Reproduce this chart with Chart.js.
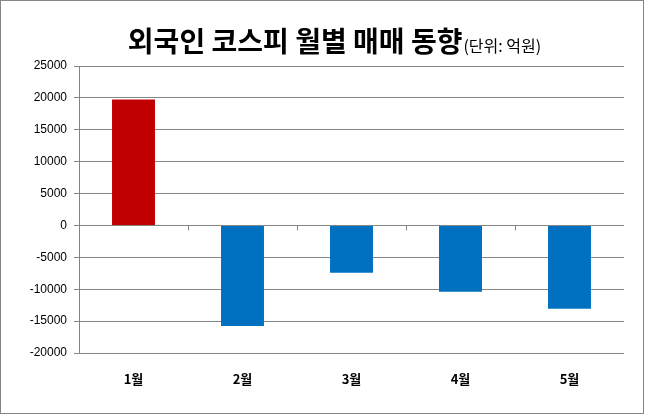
<!DOCTYPE html>
<html>
<head>
<meta charset="utf-8">
<script src="https://cdn.jsdelivr.net/npm/chart.js@4/dist/chart.umd.min.js"></script>
<style>
    html, body { margin: 0; padding: 0; background: #fff; }
    #wrap { width: 645px; height: 415px; position: relative; }
</style>
</head>
<body>
<div id="wrap"><canvas id="chart" width="645" height="415"></canvas></div>
<script>
// Chart data
const months = ['1월', '2월', '3월', '4월', '5월'];
const netBuy = [19750, -15750, -7400, -10400, -13050];
const barColors = ['#C00000', '#0070C0', '#0070C0', '#0070C0', '#0070C0'];
const yTicks = [-20000, -15000, -10000, -5000, 0, 5000, 10000, 15000, 20000, 25000];

const titleText = '외국인 코스피 월별 매매 동향';
const unitText = '(단위: 억원)';

// Title, outer frame and category tick marks on the zero line
const decorPlugin = {
    id: 'decor',
    afterDraw(chart) {
        const ctx = chart.ctx;
        ctx.save();

        // frame
        ctx.strokeStyle = '#868686';
        ctx.lineWidth = 1;
        ctx.strokeRect(0.5, 0.5, 643, 413);

        // title
        ctx.fillStyle = '#000';
        ctx.textBaseline = 'alphabetic';
        ctx.font = 'bold 28px "Noto Sans CJK KR"';
        const w1 = ctx.measureText(titleText).width;
        ctx.font = '16px "Noto Sans CJK KR"';
        const w2 = ctx.measureText(unitText).width;
        const x0 = 334 - (w1 + w2) / 2;
        ctx.font = 'bold 28px "Noto Sans CJK KR"';
        ctx.textAlign = 'left';
        ctx.fillText(titleText, x0, 52);
        ctx.font = '16px "Noto Sans CJK KR"';
        ctx.fillText(unitText, x0 + w1 + 1, 52);

        // ticks between categories on the zero line
        const xs = chart.scales.x;
        const ys = chart.scales.y;
        const y0 = Math.round(ys.getPixelForValue(0)) + 0.5;
        ctx.strokeStyle = '#868686';
        ctx.beginPath();
        for (let i = 1; i < months.length; i++) {
            const xb = Math.round((xs.getPixelForValue(i - 1) + xs.getPixelForValue(i)) / 2) + 0.5;
            ctx.moveTo(xb, y0);
            ctx.lineTo(xb, y0 + 5);
        }
        ctx.stroke();
        ctx.restore();
    }
};

new Chart(document.getElementById('chart'), {
    type: 'bar',
    data: {
        labels: months,
        datasets: [{
            data: netBuy,
            backgroundColor: barColors,
            borderWidth: 0,
            barPercentage: 0.394,
            categoryPercentage: 1.0
        }]
    },
    options: {
        responsive: false,
        animation: false,
        layout: { padding: { top: 66, left: 0, right: 21, bottom: 0 } },
        plugins: {
            legend: { display: false },
            tooltip: { enabled: false },
            title: { display: false }
        },
        scales: {
            x: {
                grid: { display: false, drawTicks: false },
                border: { display: false },
                ticks: {
                    color: '#000',
                    padding: 18,
                    font: { family: '"Noto Sans CJK KR"', size: 13, weight: 'bold' }
                },
                afterFit(scale) { scale.height = 62; }
            },
            y: {
                min: -20000,
                max: 25000,
                afterBuildTicks(scale) {
                    scale.ticks = yTicks.map(v => ({ value: v }));
                },
                grid: {
                    color: '#868686',
                    lineWidth: 1,
                    tickLength: 5,
                    tickColor: '#868686'
                },
                border: { display: true, color: '#868686', width: 1 },
                ticks: {
                    color: '#000',
                    padding: 7,
                    font: { family: '"Liberation Sans", Arial', size: 12 },
                    callback: (v) => String(v)
                },
                afterFit(scale) { scale.width = 79; }
            }
        }
    },
    plugins: [decorPlugin]
});
</script>
</body>
</html>
